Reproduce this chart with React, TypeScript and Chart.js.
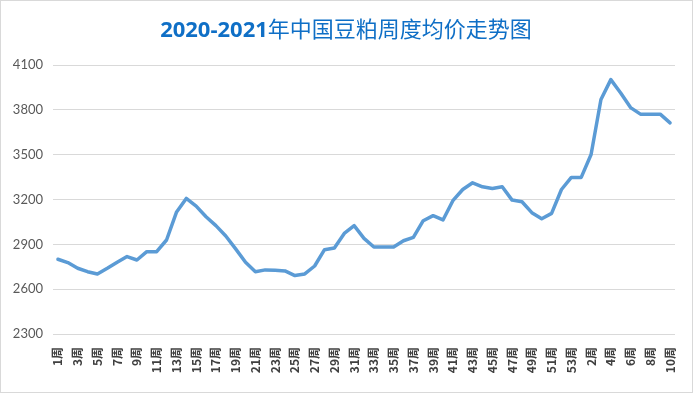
import React, { useEffect, useRef } from "react";
import { Chart, registerables } from "chart.js";

Chart.register(...registerables);

const TITLE_BOLD = "2020-2021";
const TITLE_REST = "年中国豆粕周度均价走势图";

const weeks2020 = Array.from({ length: 53 }, (_, i) => `${i + 1}周`);
const weeks2021 = Array.from({ length: 10 }, (_, i) => `${i + 1}周`);
const categories = [...weeks2020, ...weeks2021];

const prices2020 = [
  2800, 2778, 2740, 2717, 2702, 2740, 2780, 2818, 2795, 2851,
  2851, 2929, 3114, 3207, 3156, 3085, 3025, 2956, 2870, 2780,
  2717, 2729, 2726, 2722, 2691, 2702, 2755, 2864, 2876, 2973,
  3025, 2940, 2882, 2882, 2882, 2924, 2947, 3058, 3092, 3063,
  3192, 3267, 3312, 3285, 3274, 3285, 3196, 3185, 3112, 3071,
  3107, 3267, 3348,
];
const prices2021 = [3348, 3501, 3869, 4002, 3913, 3815, 3771, 3771, 3771, 3713];
const prices = [...prices2020, ...prices2021];

const yMin = 2300;
const yMax = 4100;
const yStep = 300;

const borderPlugin = {
  id: "outerBorder",
  beforeDraw(chart: any) {
    const ctx = chart.ctx;
    ctx.save();
    ctx.fillStyle = "#ffffff";
    ctx.fillRect(0, 0, chart.width, chart.height);
    ctx.strokeStyle = "#d9d9d9";
    ctx.lineWidth = 1;
    ctx.strokeRect(0.5, 0.5, chart.width - 4, chart.height - 3);
    ctx.restore();
  },
};

export default function App() {
  const ref = useRef<HTMLCanvasElement | null>(null);

  useEffect(() => {
    document.body.style.margin = "0";
    if (!ref.current) return;
    const chart = new Chart(ref.current, {
      type: "line",
      data: {
        labels: categories,
        datasets: [
          {
            data: prices,
            borderColor: "#5b9bd5",
            backgroundColor: "#5b9bd5",
            borderWidth: 3.5,
            pointRadius: 0,
            tension: 0,
            fill: false,
            borderJoinStyle: "round",
            borderCapStyle: "round",
          },
        ],
      },
      options: {
        animation: false,
        responsive: false,
        maintainAspectRatio: false,
        layout: { padding: { top: 65, right: 21, bottom: 0, left: 0 } },
        plugins: {
          legend: { display: false },
          title: { display: false },
          tooltip: { enabled: false },
        },
        scales: {
          x: {
            offset: true,
            grid: { display: false },
            border: { display: false },
            afterFit: (scale: any) => {
              scale.height = 61;
            },
            ticks: {
              autoSkip: false,
              maxRotation: 90,
              minRotation: 90,
              padding: 5,
              color: "#404040",
              font: { size: 12, weight: "bold", family: "'Noto Sans CJK SC', sans-serif" },
              callback: (_v: any, i: number) => (i % 2 === 0 ? categories[i] : ""),
            },
          },
          y: {
            min: yMin,
            max: yMax,
            afterFit: (scale: any) => {
              scale.width = 53;
            },
            grid: { color: "#d9d9d9", lineWidth: 1, drawTicks: false },
            border: { display: false },
            ticks: {
              stepSize: yStep,
              padding: 10,
              color: "#595959",
              font: { size: 13, family: "Lato, sans-serif" },
              callback: (v: any) => String(v),
            },
          },
        },
      },
      plugins: [borderPlugin],
    });
    return () => chart.destroy();
  }, []);

  return (
    <div style={{ position: "relative", width: 696, height: 395 }}>
      <canvas ref={ref} width={696} height={395} style={{ position: "absolute", left: 0, top: 0 }} />
      <div
        style={{
          position: "absolute",
          left: 0,
          top: 12,
          width: 692,
          textAlign: "center",
          color: "#0f6fc6",
          fontSize: 22,
          lineHeight: "30px",
          fontFamily: "'Noto Sans CJK SC', sans-serif",
          whiteSpace: "nowrap",
        }}
      >
        <span style={{ fontWeight: "bold", fontFamily: "'Open Sans', 'Noto Sans CJK SC', sans-serif" }}>{TITLE_BOLD}</span>
        <span>{TITLE_REST}</span>
      </div>
    </div>
  );
}
